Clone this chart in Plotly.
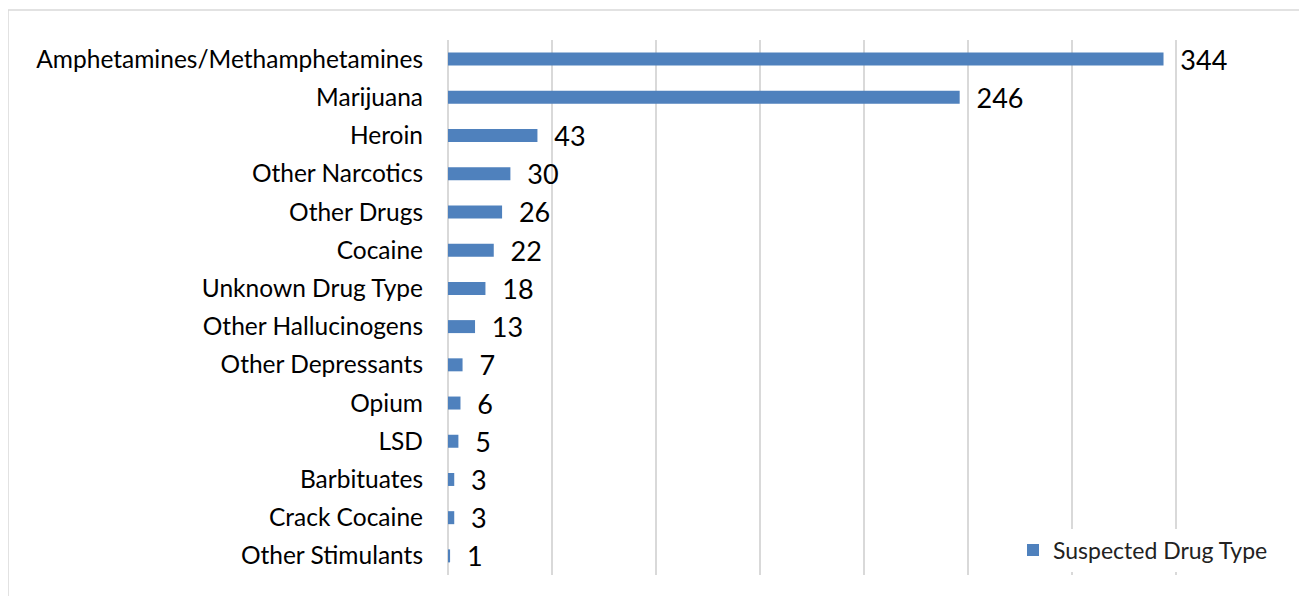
import plotly.graph_objects as go

categories = ["Amphetamines/Methamphetamines", "Marijuana", "Heroin", "Other Narcotics",
              "Other Drugs", "Cocaine", "Unknown Drug Type", "Other Hallucinogens",
              "Other Depressants", "Opium", "LSD", "Barbituates", "Crack Cocaine",
              "Other Stimulants"]
values = [344, 246, 43, 30, 26, 22, 18, 13, 7, 6, 5, 3, 3, 1]
series_name = "Suspected Drug Type"

W, H = 1307, 596
OFF = 8  # page body margin
# desired plot area in page pixels
PL, PR, PT, PB = 448, 1280, 40, 575
L = PL - OFF
T = PT - OFF
R = W - (PR - OFF)
B = H - (PB - OFF)
pw, ph = PR - PL, PB - PT

def px_to_paper_x(px):
    return (px - PL) / pw

def px_to_paper_y(py):
    return 1 - (py - PT) / ph

fig = go.Figure()
fig.add_trace(go.Bar(
    y=categories, x=values, orientation="h", name=series_name,
    marker=dict(color="#4F81BD", line=dict(width=0)),
    width=0.34,
    text=[f"  {v}" for v in values], textposition="outside",
    textfont=dict(family="Lato", size=27, color="#000000"),
    constraintext="none",
    cliponaxis=False, showlegend=True,
))

fig.update_layout(
    width=W, height=H,
    margin=dict(l=L, r=R, t=T, b=B),
    paper_bgcolor="white", plot_bgcolor="white",
    font=dict(family="Lato", color="#000000"),
    xaxis=dict(range=[0, 400], dtick=50, showgrid=True, gridcolor="#d9d9d9", gridwidth=1.5,
               zeroline=True, zerolinecolor="#d9d9d9", zerolinewidth=1.5,
               showticklabels=False, showline=False, fixedrange=True),
    yaxis=dict(autorange="reversed", showgrid=False, showline=False, zeroline=False,
               tickfont=dict(family="Lato", size=24.5, color="#000000"),
               ticklabelstandoff=24, fixedrange=True),
    legend=dict(x=px_to_paper_x(1013), y=px_to_paper_y(550), xanchor="left", yanchor="middle",
                bgcolor="white", font=dict(family="Lato", size=23, color="#222222"),
                itemwidth=30),
    shapes=[dict(type="rect", xref="paper", yref="paper",
                 x0=px_to_paper_x(8), x1=px_to_paper_x(1330),
                 y0=px_to_paper_y(620), y1=px_to_paper_y(10),
                 line=dict(color="#d9d9d9", width=1.5), fillcolor="rgba(0,0,0,0)",
                 layer="below")],
)

fig.write_html("out.html")
